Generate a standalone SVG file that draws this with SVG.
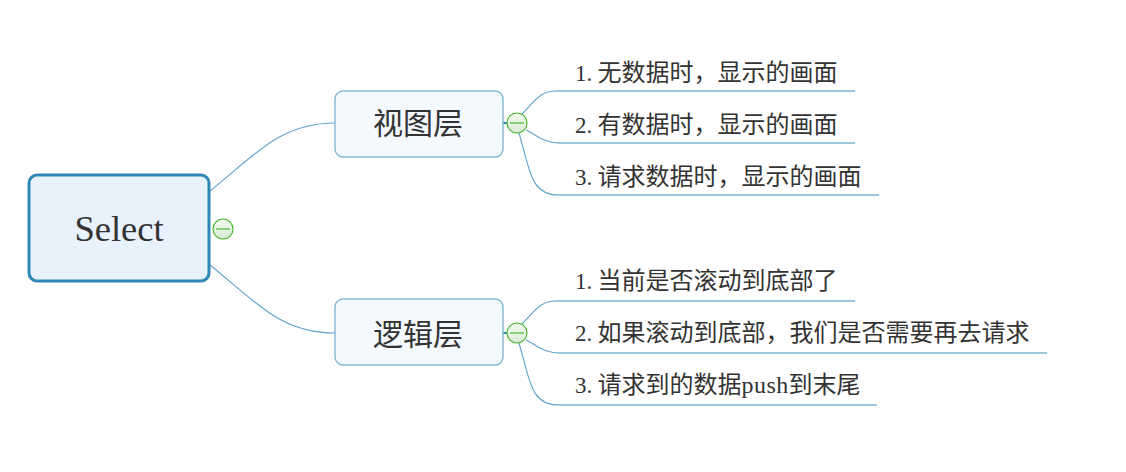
<svg xmlns="http://www.w3.org/2000/svg" width="1126" height="472" viewBox="0 0 1126 472">
<defs>
<linearGradient id="tg" x1="0" y1="0" x2="0" y2="1"><stop offset="0" stop-color="#f6fbf4"/><stop offset="1" stop-color="#d9e8d6"/></linearGradient>
</defs>
<style>
.c{fill:none;stroke:#5fa3cb;stroke-width:1.1}
.h{fill:none;stroke:#7db5d6;stroke-width:1.3}
.s{fill:none;stroke:#2f88b5;stroke-width:2}
.t{font-family:"Liberation Serif","Noto Sans CJK SC",serif;fill:#333}
.l{font-size:24px}
.n{font-size:23px}
.m{font-size:30px}
.b{fill:#f4f9fe;stroke:#84b8d6;stroke-width:1.4}
.o{fill:url(#tg);stroke:#3fb21f;stroke-width:1.1}
.d{stroke:#82d474;stroke-width:2}
</style>
<rect width="1126" height="472" fill="#fff"/>
<g id="connectors">
<path class="c" d="M210 191C255 155 280 123 335 123"/>
<path class="c" d="M210 265C255 301 280 333 335 333"/>
<path class="s" d="M503 123H507M503 333H507"/>
<path class="c" d="M522 114C535 101 540 91 556 91"/>
<path class="h" d="M556 91H855"/>
<path class="c" d="M526 130C538 136 545 143 558 143"/>
<path class="h" d="M558 143H855"/>
<path class="c" d="M519 133C530 170 530 195 559 195"/>
<path class="h" d="M559 195H879"/>
<path class="c" d="M522 324C535 311 540 301 556 301"/>
<path class="h" d="M556 301H855"/>
<path class="c" d="M526 340C538 346 545 353 558 353"/>
<path class="h" d="M558 353H1047"/>
<path class="c" d="M519 343C530 380 530 405 559 405"/>
<path class="h" d="M559 405H877"/>
</g>
<g id="root"><rect x="29" y="175" width="180" height="106" rx="8" fill="#e8f2fd" stroke="#2f88b5" stroke-width="3"/><text class="t" x="119" y="240.500" font-size="36.500" text-anchor="middle">Select</text></g>
<g id="root-toggle"><circle class="o" cx="223" cy="229" r="10"/><path class="d" d="M216 229H230"/></g>
<g id="view"><rect class="b" x="335" y="91" width="168" height="66" rx="8"/><text class="t m" x="418" y="134" text-anchor="middle">视图层</text></g>
<g id="view-toggle"><circle class="o" cx="517" cy="123" r="10"/><path class="d" d="M510 123H524"/></g>
<g id="logic"><rect class="b" x="335" y="299" width="168" height="66" rx="8"/><text class="t m" x="418" y="345" text-anchor="middle">逻辑层</text></g>
<g id="logic-toggle"><circle class="o" cx="517" cy="333" r="10"/><path class="d" d="M510 333H524"/></g>
<g id="v1"><text class="t l" x="575" y="81"><tspan class="n">1.</tspan><tspan x="597.500">无数据时，显示的画面</tspan></text></g>
<g id="v2"><text class="t l" x="575" y="133"><tspan class="n">2.</tspan><tspan x="597.500">有数据时，显示的画面</tspan></text></g>
<g id="v3"><text class="t l" x="575" y="185"><tspan class="n">3.</tspan><tspan x="597.500">请求数据时，显示的画面</tspan></text></g>
<g id="l1"><text class="t l" x="575" y="289"><tspan class="n">1.</tspan><tspan x="597.500">当前是否滚动到底部了</tspan></text></g>
<g id="l2"><text class="t l" x="575" y="341"><tspan class="n">2.</tspan><tspan x="597.500">如果滚动到底部，我们是否需要再去请求</tspan></text></g>
<g id="l3"><text class="t l" x="575" y="393"><tspan class="n">3.</tspan><tspan x="597.500">请求到的数据</tspan><tspan x="741.500" letter-spacing="0.500">push</tspan><tspan x="788.500">到末尾</tspan></text></g>
</svg>
